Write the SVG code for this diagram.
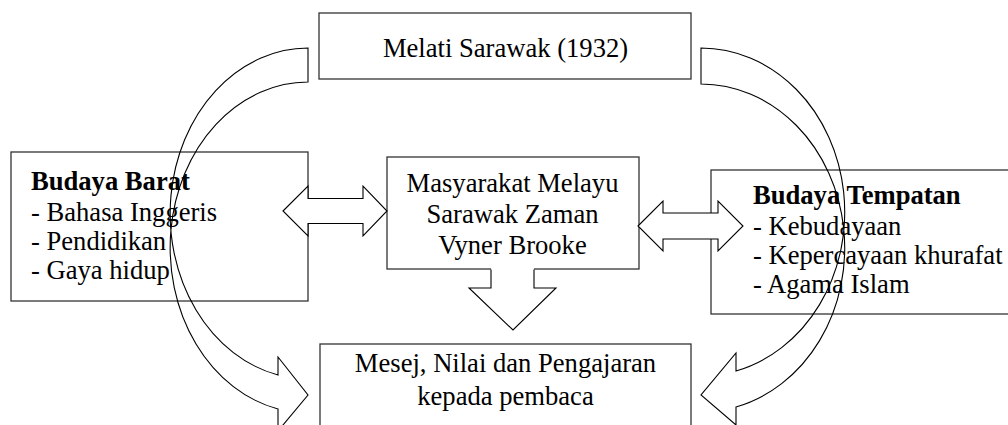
<svg xmlns="http://www.w3.org/2000/svg" width="1008" height="425" viewBox="0 0 1008 425">
<style>
.box{fill:none;stroke:#333;stroke-width:1.3}
.t{font-family:"Liberation Serif","Times New Roman",serif;font-size:26.6px;fill:#000}
.b{font-weight:bold}
.m{text-anchor:middle}
.arr{fill:#fff;stroke:#000;stroke-width:1.1;stroke-linejoin:miter}
.curve{fill:none;stroke:#000;stroke-width:1.1}
</style>
<rect width="1008" height="425" fill="#fff"/>
<g id="node-melati">
<rect class="box" x="319" y="13" width="372" height="66"/>
<text class="t m" x="505.5" y="57">Melati Sarawak (1932)</text>
</g>
<g id="node-barat">
<rect class="box" x="11" y="152" width="297" height="149"/>
<text class="t b" x="31" y="190">Budaya Barat</text>
<text class="t" x="31" y="221">- Bahasa Inggeris</text>
<text class="t" x="31" y="250">- Pendidikan</text>
<text class="t" x="31" y="279">- Gaya hidup</text>
</g>
<g id="node-masyarakat">
<rect class="box" x="387" y="157" width="252" height="112"/>
<text class="t m" x="512.5" y="192">Masyarakat Melayu</text>
<text class="t m" x="512.5" y="222.5">Sarawak Zaman</text>
<text class="t m" x="512.5" y="253.5">Vyner Brooke</text>
</g>
<g id="node-tempatan">
<rect class="box" x="711" y="170" width="310" height="144"/>
<text class="t b" x="753" y="204">Budaya Tempatan</text>
<text class="t" x="753" y="235">- Kebudayaan</text>
<text class="t" x="753" y="264">- Kepercayaan khurafat</text>
<text class="t" x="753" y="293">- Agama Islam</text>
</g>
<g id="node-mesej">
<rect class="box" x="320" y="344" width="371" height="100"/>
<text class="t m" x="505.5" y="372">Mesej, Nilai dan Pengajaran</text>
<text class="t m" x="505.5" y="404.5">kepada pembaca</text>
</g>
<g id="connectors">
<path class="arr" d="M283,211 L308,186 L308,198.5 L363,198.5 L363,186 L387,211 L363,236 L363,223.5 L308,223.5 L308,236 Z"/>
<path class="arr" d="M638,226 L663,201 L663,213 L718,213 L718,201 L743,226 L718,251 L718,239 L663,239 L663,251 Z"/>
<path d="M491,268 L491,288 L469,288 L513,330 L556,288 L534,288 L534,268 Z" fill="#fff" stroke="none"/>
<path class="curve" d="M491,269.5 L491,288 L469,288 L513,330 L556,288 L534,288 L534,269.5"/>
<path class="curve" d="M308,48 A138,165.5 0 0 0 278,375 L278,357 L308,395 L278,431 L278,409 A138,165.5 0 0 1 308,82 Z"/>
<path class="curve" d="M701,48 A144,164 0 0 1 736,371 L736,353 L701,395 L736,425 L736,407 A144,164 0 0 0 701,84 Z"/>
</g>
</svg>
